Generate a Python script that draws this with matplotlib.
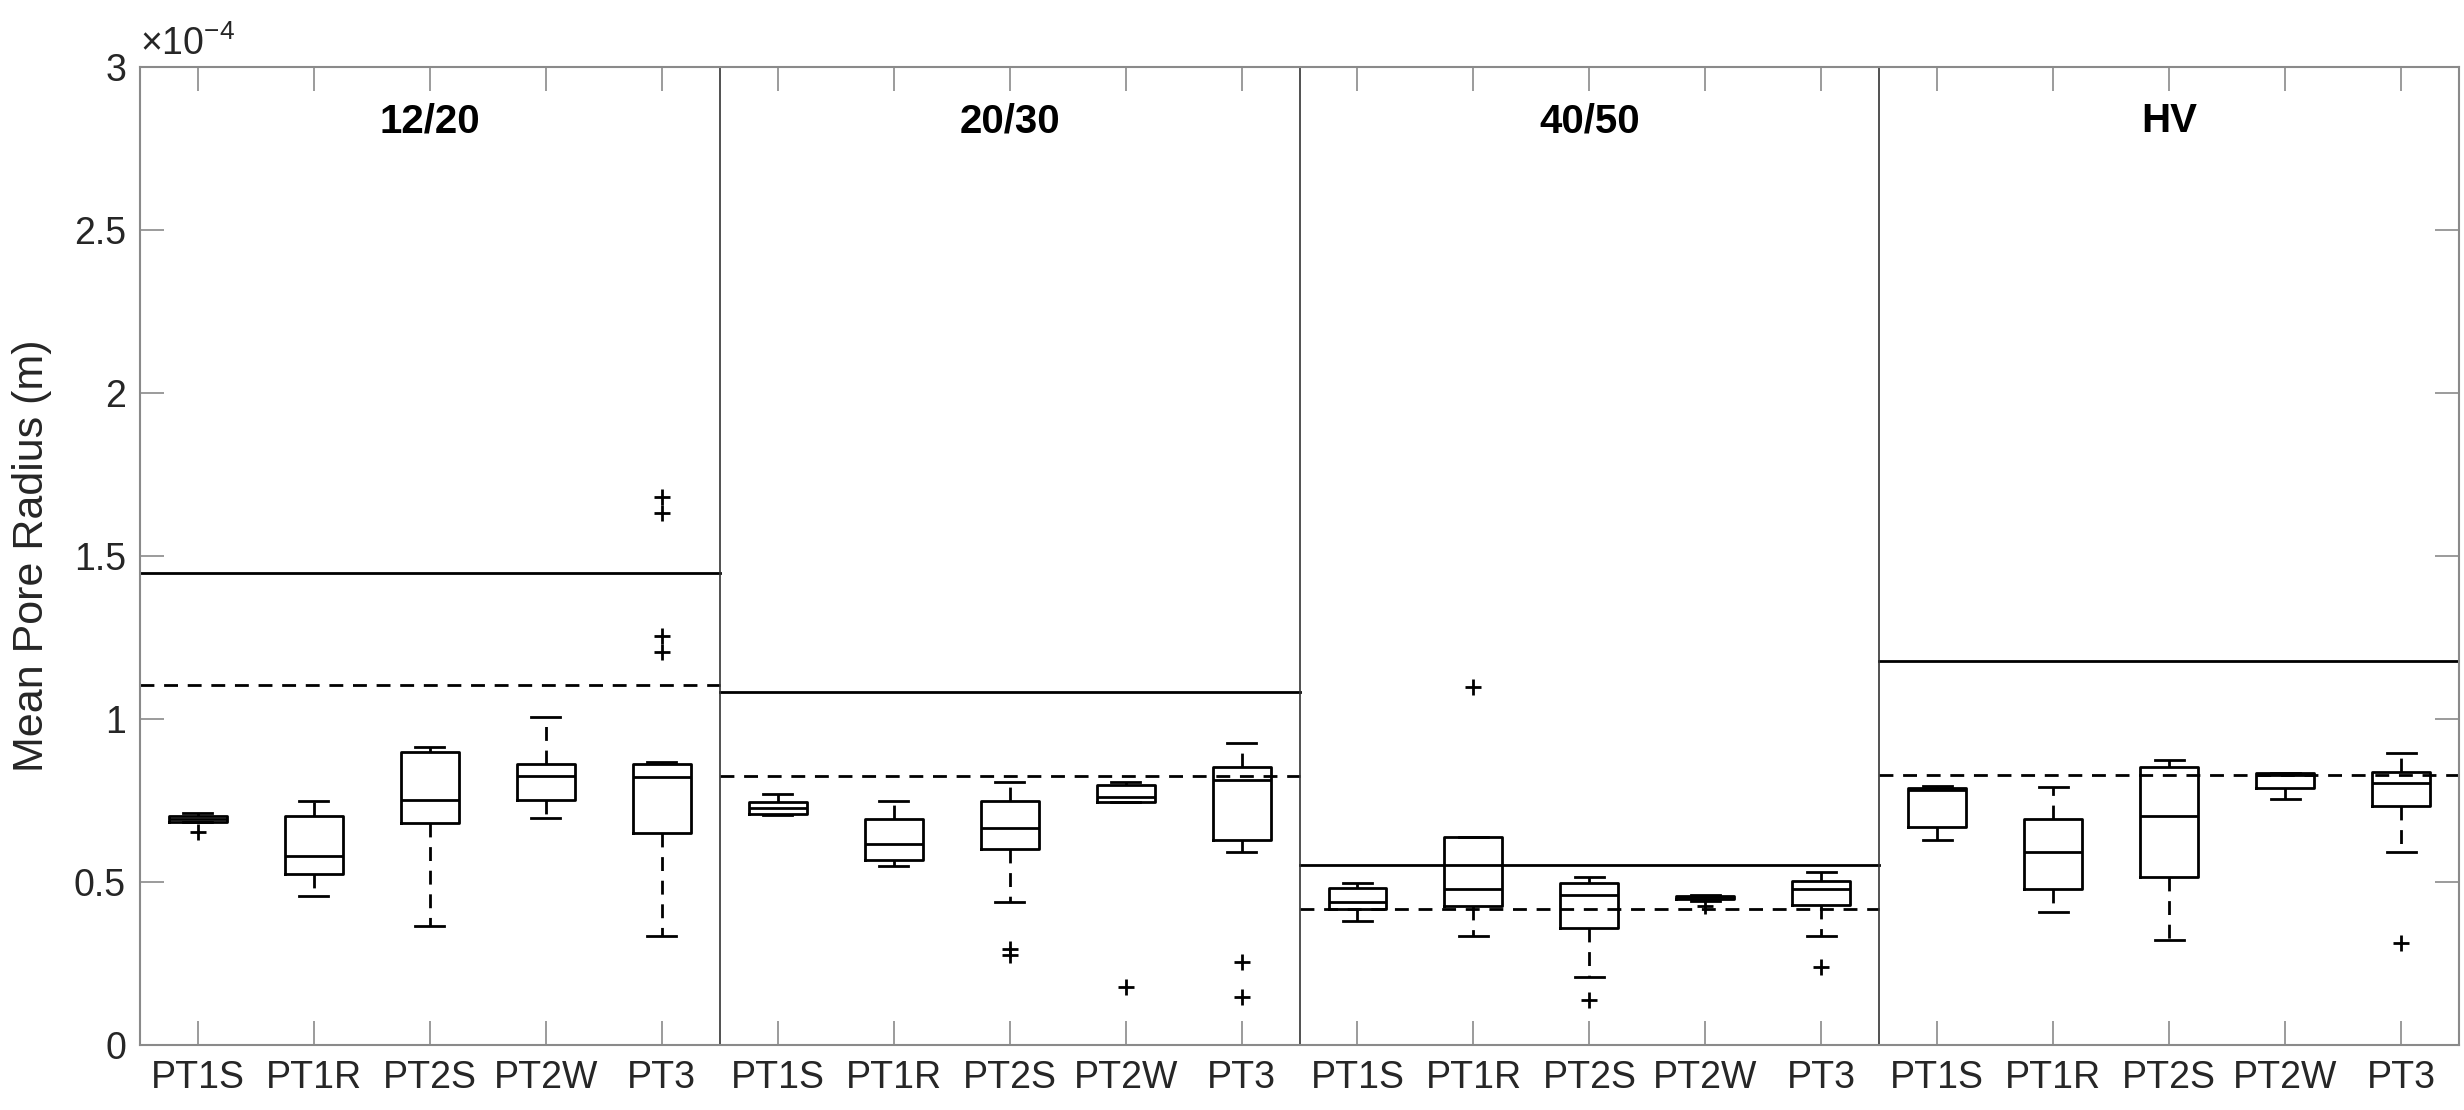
import numpy as np
import matplotlib
matplotlib.use("Agg")
import matplotlib.pyplot as plt
from matplotlib.ticker import FuncFormatter

plt.rcParams['font.family'] = ['Liberation Sans', 'DejaVu Sans']
plt.rcParams['mathtext.fontset'] = 'custom'
plt.rcParams['mathtext.rm'] = 'Liberation Sans'

SCALE = 1e-4  # all values below are in units of 1e-4 m

groups = ['12/20', '20/30', '40/50', 'HV']
samples = ['PT1S', 'PT1R', 'PT2S', 'PT2W', 'PT3']

# box statistics per group, one entry per sample
whislo = [
    [0.683, 0.456, 0.364, 0.695, 0.335],
    [0.704, 0.548, 0.440, 0.746, 0.592],
    [0.381, 0.334, 0.208, 0.443, 0.334],
    [0.629, 0.409, 0.321, 0.753, 0.591],
]
q1 = [
    [0.685, 0.524, 0.682, 0.751, 0.650],
    [0.708, 0.568, 0.600, 0.746, 0.628],
    [0.417, 0.427, 0.359, 0.448, 0.430],
    [0.668, 0.479, 0.514, 0.787, 0.732],
]
med = [
    [0.694, 0.581, 0.752, 0.826, 0.823],
    [0.726, 0.618, 0.666, 0.761, 0.814],
    [0.438, 0.479, 0.461, 0.453, 0.479],
    [0.782, 0.591, 0.702, 0.828, 0.803],
]
q3 = [
    [0.703, 0.703, 0.900, 0.863, 0.863],
    [0.746, 0.693, 0.747, 0.796, 0.853],
    [0.480, 0.637, 0.496, 0.457, 0.504],
    [0.788, 0.694, 0.852, 0.833, 0.836],
]
whishi = [
    [0.711, 0.749, 0.913, 1.005, 0.867],
    [0.771, 0.747, 0.806, 0.808, 0.927],
    [0.498, 0.637, 0.514, 0.460, 0.532],
    [0.794, 0.791, 0.875, 0.833, 0.895],
]
outliers = [
    [[0.654], [], [], [], [1.680, 1.631, 1.255, 1.206]],
    [[], [], [0.294, 0.276], [0.178], [0.256, 0.146]],
    [[], [1.097], [0.138], [0.425], [0.238]],
    [[], [], [], [], [0.312]],
]

# reference levels drawn across each group
solid_level = [1.447, 1.083, 0.552, 1.179]
dashed_level = [1.104, 0.826, 0.418, 0.828]

fig = plt.figure(figsize=(24.64, 11.10), dpi=100)
ax = fig.add_axes([0.0568, 0.0586, 0.9412, 0.881])

n = len(samples)
stats = []
positions = []
for g in range(len(groups)):
    for s in range(n):
        stats.append(dict(whislo=whislo[g][s] * SCALE, q1=q1[g][s] * SCALE,
                          med=med[g][s] * SCALE, q3=q3[g][s] * SCALE,
                          whishi=whishi[g][s] * SCALE,
                          fliers=np.array(outliers[g][s]) * SCALE))
        positions.append(g * n + s + 1)

dash = (0, (5, 3.5))
ax.bxp(stats, positions=positions, widths=0.5, showfliers=True,
       boxprops=dict(color='k', lw=2),
       whiskerprops=dict(color='k', lw=2, linestyle=dash),
       capprops=dict(color='k', lw=2),
       medianprops=dict(color='k', lw=2),
       flierprops=dict(marker='+', markeredgecolor='k', markersize=12, mew=2))

for g in range(len(groups)):
    x0, x1 = g * n + 0.5, g * n + n + 0.5
    ax.plot([x0, x1], [solid_level[g] * SCALE] * 2, color='k', lw=2)
    ax.plot([x0, x1], [dashed_level[g] * SCALE] * 2, color='k', lw=2, linestyle=dash)
    if g > 0:
        ax.axvline(x0, color='#333333', lw=1.2)
    ax.text(g * n + (n + 1) / 2, 2.8 * SCALE, groups[g], ha='center', va='baseline',
            fontsize=29, fontweight='bold', color='k')

ax.set_xlim(0.5, len(groups) * n + 0.5)
ax.set_ylim(0, 3 * SCALE)
ax.set_xticks(positions)
ax.set_xticklabels(samples * len(groups))
ax.set_yticks(np.arange(0, 3.01, 0.5) * SCALE)
ax.yaxis.set_major_formatter(FuncFormatter(lambda v, p: f'{v / SCALE:g}'))

ax.tick_params(direction='in', length=17, width=1.2, color='#8a8a8a',
               labelsize=27, labelcolor='#262626', top=True, right=True)
ax.tick_params(axis='x', pad=11)
ax.tick_params(axis='y', pad=10)
for sp in ax.spines.values():
    sp.set_color('#8a8a8a')
    sp.set_linewidth(1.5)

ax.set_ylabel('Mean Pore Radius (m)', fontsize=31, color='#262626')
ax.yaxis.set_label_coords(-0.038, 0.5)

ax.text(0.0, 1.004, r'$\times\mathregular{10^{-4}}$', transform=ax.transAxes,
        ha='left', va='bottom', fontsize=27, color='#262626')

fig.savefig('out.png', dpi=100)
